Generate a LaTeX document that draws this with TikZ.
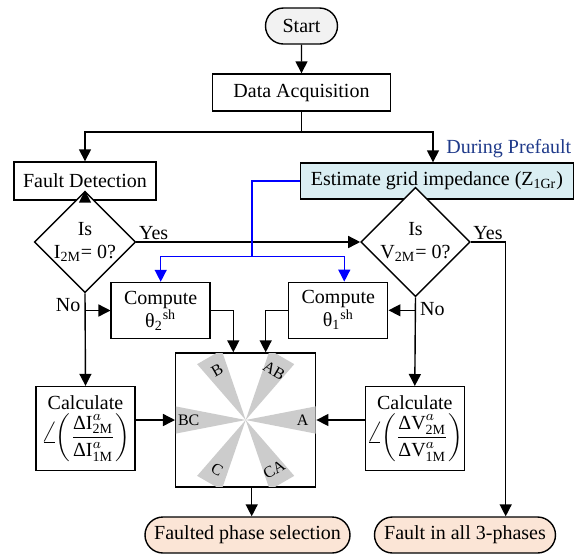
\documentclass[tikz,border=0pt]{standalone}
\usepackage{amsmath}
\usepackage{fontspec}
\setmainfont{Liberation Serif}
\usetikzlibrary{arrows.meta,positioning,calc,shapes.geometric,shapes.misc}
\definecolor{termG}{HTML}{F2F2F2}
\definecolor{termP}{HTML}{FBE5D6}
\definecolor{estB}{HTML}{DAEEF3}
\definecolor{navyA}{HTML}{1F3A8A}
\newcommand{\thsh}[1]{θ\textsubscript{#1}\textsuperscript{sh}}
\newcommand{\angfrac}[3]{{\fontsize{15}{15}\selectfont$\angle$}\kern-1pt$\left(\dfrac{\text{Δ#1}^{a}_{\text{#2}}}{\text{Δ#1}^{a}_{\text{#3}}}\right)$}

\begin{document}
\begin{tikzpicture}[x=0.5pt, y=-0.5pt, font=\fontsize{10}{11.5}\selectfont, line width=0.7pt,
  box/.style={draw, fill=white, align=center, inner sep=1pt},
  term/.style={box, rounded rectangle, minimum height=18pt},
  dec/.style={diamond, draw, fill=white, align=center, inner sep=0pt, minimum width=48.5pt, minimum height=41.5pt},
  arr/.style={-{Triangle[length=6pt,width=6pt]}},
  barr/.style={arr, blue},
  wedge/.style={fill=black!20},
  sect/.style={font=\fontsize{8}{9}\selectfont, inner sep=0pt}]
\useasboundingbox (0,0) rectangle (586,554);
\node[term, fill=termG, minimum width=38pt] (start) at (301.5,26) {Start};
\node[box, minimum width=89pt, minimum height=18.5pt] (acq) at (301.5,92.5) {Data Acquisition};
\node[box, minimum width=71pt, minimum height=19pt] (detect) at (85,181) {Fault Detection};
\node[box, fill=estB, minimum width=136.5pt, minimum height=18pt] (est) at (437,181) {Estimate grid impedance (Z\textsubscript{1Gr})};
\node[text=navyA, anchor=south east, inner sep=1pt] (prefault) at (574,161) {During Prefault};
\node[dec] (isI) at (85,242) {Is\\I\textsubscript{2M}= 0?};
\node[dec] (isV) at (415.5,242) {Is\\V\textsubscript{2M}= 0?};
\node[box, minimum width=49.5pt, minimum height=28pt] (comp2) at (160.7,310.5) {Compute\\\thsh{2}};
\node[box, minimum width=49.5pt, minimum height=28pt] (comp1) at (338.3,310.3) {Compute\\\thsh{1}};
\node[box, inner sep=0.5pt, minimum width=49.5pt, minimum height=42pt] (calcI) at (85.5,428.5) {Calculate\\[1pt]\angfrac{I}{2M}{1M}};
\node[box, inner sep=0.5pt, minimum width=49pt, minimum height=42pt] (calcV) at (414.8,428.7) {Calculate\\[1pt]\angfrac{V}{2M}{1M}};
\node[box, minimum width=70pt, minimum height=67pt] (sel) at (245.7,420) {};
\node[term, fill=termP, minimum width=104.5pt] (outsel) at (247.5,535) {Faulted phase selection};
\node[term, fill=termP, minimum width=92.5pt] (out3) at (465,535) {Fault in all 3-phases};

% phase sectors
\begin{scope}
  \clip ([shift={(0.4pt,-0.4pt)}]sel.north west) rectangle ([shift={(-0.4pt,0.4pt)}]sel.south east);
  \foreach \a in {0,60,...,300}
    \fill[wedge] (sel.center) -- ([shift={(\a-11:37pt)}]sel.center) -- ([shift={(\a+11:37pt)}]sel.center) -- cycle;
\end{scope}
\foreach \a/\r/\t in {0/0/A,60/-30/AB,120/30/B,180/0/BC,240/-30/C,300/30/CA}
  \node[sect, rotate=\r] at ([shift={(\a:28.5pt)}]sel.center) {\t};

% connectors
\coordinate (fork) at (301.5,132);
\coordinate (yesturn) at (505.7,242);
\coordinate (bluefork) at (252,256.7);
\draw[arr] (start) -- (acq);
\draw (acq) -- (fork);
\draw[arr] (fork) -| (detect.north);
\draw[arr] (fork) -| ([xshift=-2pt]est.north);
\draw[arr] (detect) -- (isI);
\draw[arr] (isI) -- node[pos=0, above right, inner sep=1pt] {Yes} (isV);
\draw[arr] (isV.east) node[above right, inner sep=1pt] {Yes} -- (yesturn) -- (yesturn |- out3.north);
\draw[arr] (isI.south) node[below left, inner sep=2pt] {No} -- (calcI.north);
\draw[arr] (isV.south) node[below right, inner sep=2pt] {No} -- (calcV.north);
\draw[arr] (comp2.west -| isI.south) -- (comp2.west);
\draw[arr] (comp1.east -| isV.south) -- (comp1.east);
\draw[arr] (comp2.east) -| ([xshift=-6.2pt]sel.north);
\draw[arr] (comp1.west) -| ([xshift=10pt]sel.north);
\draw[arr] (sel.west -| calcI.east) -- (sel.west);
\draw[arr] (sel.east -| calcV.west) -- (sel.east);
\draw[arr] ([xshift=3pt]sel.south) -- ([xshift=3pt]sel.south |- outsel.north);
\draw[barr] (est.west) -| (bluefork) -| (comp2.north);
\draw[barr] (bluefork) -| ([xshift=3pt]comp1.north);
\end{tikzpicture}
\end{document}
